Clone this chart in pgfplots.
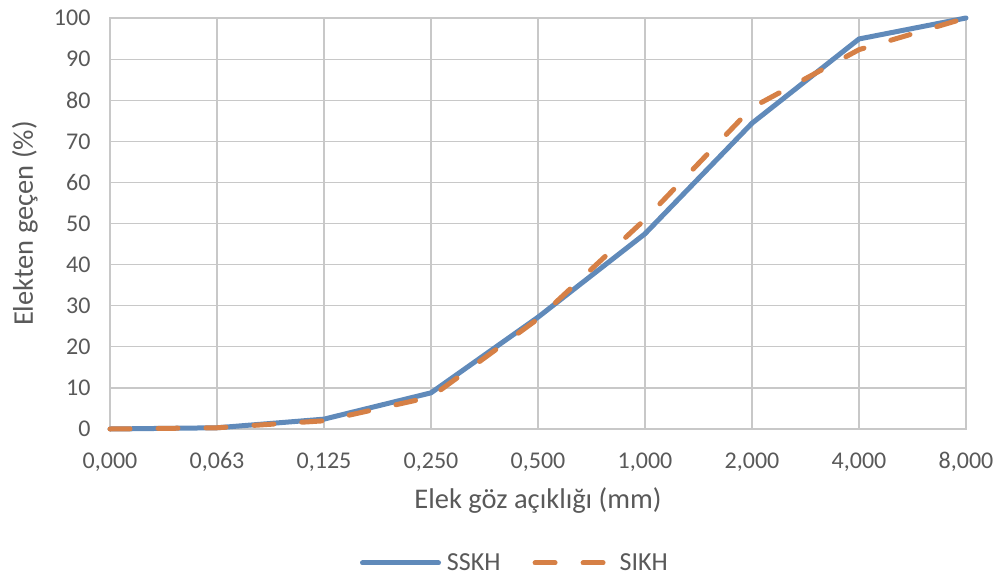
\documentclass[border=0pt]{standalone}
\usepackage{pgfplots}
\pgfplotsset{compat=1.18}
\usepackage{fontspec}
\setmainfont{Carlito}

\definecolor{sskh}{RGB}{96,138,186}
\definecolor{sikh}{RGB}{214,128,70}
\definecolor{gridgray}{RGB}{200,200,200}
\definecolor{txtgray}{RGB}{89,89,89}

\begin{document}
\begin{tikzpicture}
\begin{axis}[
  scale only axis,
  width=856bp, height=411bp,
  xmin=0, xmax=8, ymin=0, ymax=100,
  xtick={0,...,8},
  xticklabels={{0,000},{0,063},{0,125},{0,250},{0,500},{1,000},{2,000},{4,000},{8,000}},
  ytick={0,10,...,100},
  major tick length=0pt,
  grid=major,
  grid style={gridgray, line width=1.2bp},
  axis line style={gridgray, line width=1.2bp},
  /pgf/number format/assume math mode=true,
  tick label style={font=\fontsize{24bp}{28bp}\selectfont, text=txtgray},
  xticklabel style={yshift=-20bp},
  yticklabel shift=16bp,
  xlabel={Elek göz açıklığı (mm)},
  ylabel={Elekten geçen (\%)},
  label style={font=\fontsize{28.5bp}{32bp}\selectfont, text=txtgray},
  xlabel style={at={(axis description cs:0.5,-0.173)}, anchor=center},
  ylabel style={at={(axis description cs:-0.0993,0.5)}, anchor=center},
  legend columns=2,
  legend style={draw=none, fill=none, at={(axis description cs:0.473,-0.326)}, anchor=center,
    font=\fontsize{26bp}{30bp}\selectfont, text=txtgray,
    /tikz/every odd column/.append style={column sep=4bp},
    /tikz/every even column/.append style={column sep=30bp}},
  legend image code/.code={\draw[#1] (0bp,0bp) -- (76bp,0bp);},
  clip=false,
]
\addplot[sskh, line width=5bp, line join=round, line cap=round]
  coordinates {(0,0) (1,0.3) (2,2.4) (3,8.8) (4,27.2) (5,47.5) (6,74.4) (7,94.9) (8,100)};
\addlegendentry{SSKH}
\addplot[sikh, line width=5bp, line join=round, line cap=round, dash pattern=on 20bp off 28bp]
  coordinates {(0,0) (1,0.3) (2,2.0) (3,7.8) (4,26.8) (5,51.0) (6,78.2) (7,92.3) (8,100)};
\addlegendentry{SIKH}
\end{axis}
\path (current axis.south west) ++(-110bp,-147bp) rectangle ++(998bp,576bp);
\end{tikzpicture}
\end{document}
